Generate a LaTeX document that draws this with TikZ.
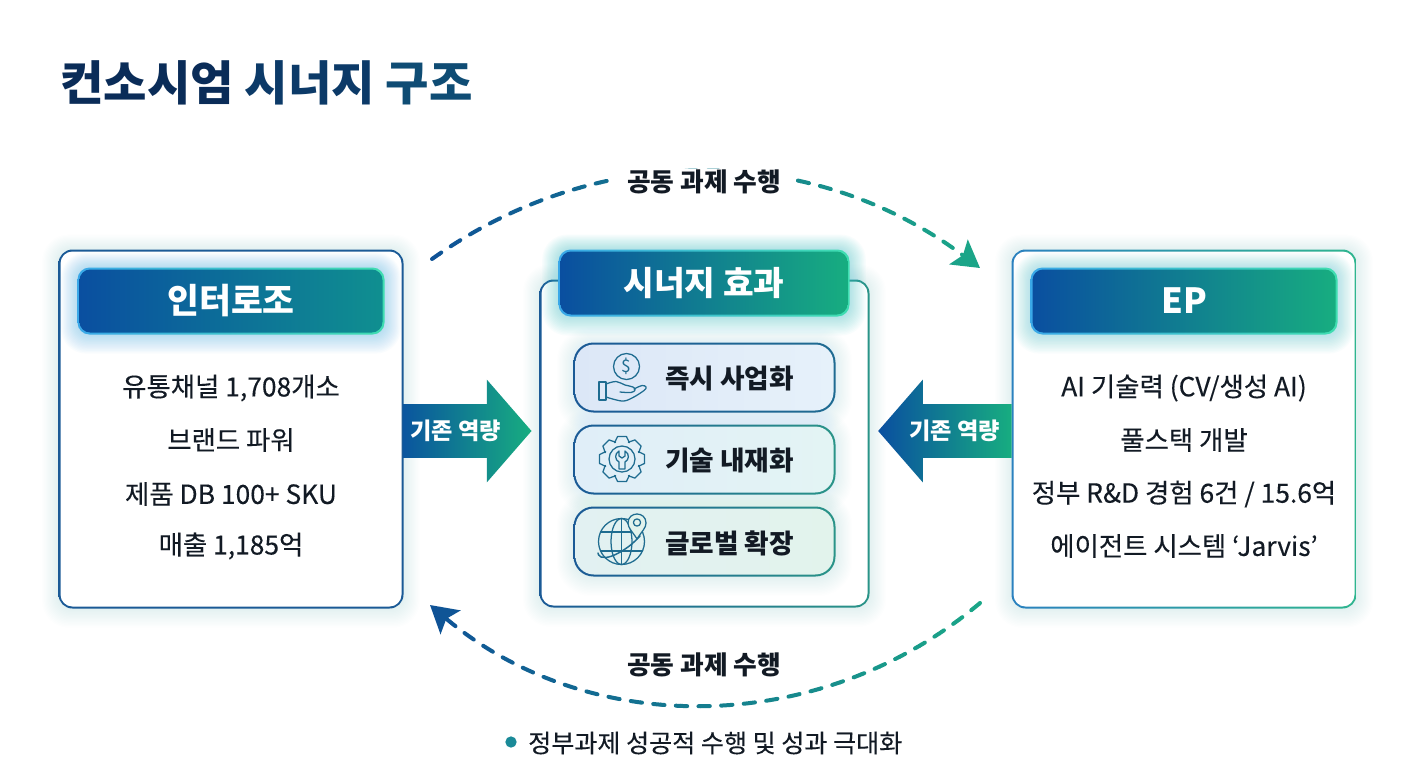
\documentclass[tikz,border=0pt]{standalone}
\usepackage{fontspec}
\setmainfont{Noto Sans CJK KR}
\newfontfamily\medfont[FakeBold=0.25]{Noto Sans CJK KR}
\usetikzlibrary{arrows.meta,shapes.arrows,calc}
\definecolor{navya}{HTML}{0A2C58}
\definecolor{navyb}{HTML}{0C3A68}
\definecolor{navyc}{HTML}{0F4C74}
\definecolor{gblue}{HTML}{0A4FA0}
\definecolor{gteal}{HTML}{0F8F90}
\definecolor{ggreen}{HTML}{17AD80}
\definecolor{edgeblue}{HTML}{3AA8E8}
\definecolor{edgeteal}{HTML}{3FDDB0}
\definecolor{lineblue}{HTML}{1B5A96}
\definecolor{linegreen}{HTML}{2FB58F}
\definecolor{lineteal}{HTML}{2A9488}
\definecolor{icon}{HTML}{1F6C90}
\definecolor{ink}{HTML}{121A24}
\definecolor{dashb}{HTML}{0F5296}
\definecolor{dashg}{HTML}{1BA888}
\definecolor{dot}{HTML}{1A8A98}
\definecolor{pinfill}{HTML}{E2F3EC}
\tikzset{
  x=0.75pt,y=-0.75pt,
  boxouter/.style={inner sep=0pt,outer sep=0pt,shading=axis,shading angle=90},
  panelbox/.style={boxouter,rounded corners=10.5pt},
  panelfill/.style={fill=white,inner sep=0pt,outer sep=0pt,rounded corners=9pt},
  headbox/.style={boxouter,rounded corners=9pt},
  pillbox/.style={boxouter,rounded corners=15pt},
  headtext/.style={text=white,font=\bfseries\fontsize{26}{26}\selectfont,inner sep=0pt},
  bodytext/.style={text=ink,font=\medfont\fontsize{19.8}{20}\selectfont,inner sep=0pt},
  pilltext/.style={text=ink,font=\bfseries\fontsize{20}{20}\selectfont,inner sep=0pt,anchor=west},
  linktext/.style={text=ink,font=\bfseries\fontsize{19.3}{20}\selectfont,fill=white,inner xsep=11.5pt,inner ysep=1pt},
  loopdash/.style={line width=3pt,line cap=round,dash pattern=on 8.5pt off 8.5pt,
    -{Stealth[length=20pt,width=23pt,inset=4pt]}},
  iconline/.style={draw=icon,line width=0.95pt,line cap=round,line join=round},
  blockarrow/.style={single arrow,shading=axis,shading angle=90,inner sep=0pt,outer sep=0pt,
    text height=25.9pt,text depth=13.85pt,yshift=-1.5pt,
    minimum height=96pt,minimum width=76.5pt,single arrow head extend=18.4pt,
    single arrow tip angle=98,text=white,font=\bfseries\fontsize{17.4}{18}\selectfont},
}
\newcommand{\glowrect}[7]{% x1 y1 x2 y2 radius colour opacity
  \foreach \g in {1,...,14}{
    \fill[#6,opacity=#7,rounded corners={#5+\g*0.7pt}] ({#1-\g*1.2},{#2-\g*1.1}) rectangle ({#3+\g*1.2},{#4+\g*1.4});
  }}
\begin{document}
\begin{tikzpicture}
\useasboundingbox (0,0) rectangle (1408,768);
\fill[white] (0,0) rectangle (1408,768);
% title
\node (title) [anchor=west,inner sep=0pt,font=\bfseries\fontsize{35.4}{38}\selectfont] at (60,82.5)
  {\textcolor{navya}{컨소시엄} \textcolor{navyb}{시너지} \textcolor{navyc}{구조}};
% glows
\glowrect{59}{250}{403}{608}{10pt}{edgeblue}{0.009}
\glowrect{1012}{250}{1356}{608}{10pt}{edgeteal!60!edgeblue}{0.009}
\glowrect{540}{280}{869}{607}{10pt}{edgeblue!50!edgeteal}{0.009}
% panels
\node (left) [panelbox,minimum width=258.75pt,minimum height=269.25pt,left color=lineblue,right color=lineblue] at (231,429) {};
\node (leftin) [panelfill,minimum width=255.75pt,minimum height=266.25pt] at (left.center) {};
\node (right) [panelbox,minimum width=258.75pt,minimum height=269.25pt,left color=edgeblue!50!lineblue,right color=linegreen] at (1184,429) {};
\node (rightin) [panelfill,minimum width=255.75pt,minimum height=266.25pt] at (right.center) {};
\node (mid) [panelbox,minimum width=247.5pt,minimum height=246pt,left color=lineblue,right color=lineteal] at (704.5,443.5) {};
\node (midin) [panelfill,minimum width=244.5pt,minimum height=243pt] at (mid.center) {};
% header glows
\glowrect{78}{268}{384}{334}{9pt}{edgeblue}{0.028}
\glowrect{559}{250}{849}{316}{9pt}{edgeblue!50!edgeteal}{0.03}
\glowrect{1031}{268}{1337}{334}{9pt}{edgeblue!50!edgeteal}{0.028}
% headers
\node (lefthead) [headbox,minimum width=230.25pt,minimum height=50.25pt,left color=edgeblue,right color=edgeteal] at (231,301) {};
\node [headbox,rounded corners=8pt,minimum width=227.25pt,minimum height=47.25pt,left color=gblue,right color=gteal,headtext] at (lefthead.center) {인터로조};
\node (midhead) [headbox,minimum width=218.25pt,minimum height=50.25pt,left color=edgeblue,right color=edgeteal] at (704,283) {};
\node [headbox,rounded corners=8pt,minimum width=215.25pt,minimum height=47.25pt,left color=gblue,right color=ggreen,headtext,font=\bfseries\fontsize{25}{25}\selectfont] at (midhead.center) {시너지 효과};
\node (righthead) [headbox,minimum width=230.25pt,minimum height=50.25pt,left color=edgeblue,right color=edgeteal] at (1184,301) {};
\node [headbox,rounded corners=8pt,minimum width=227.25pt,minimum height=47.25pt,left color=gblue,right color=ggreen,headtext] at (righthead.center) {EP};
% body text
\node (l1) [bodytext] at (231,388) {유통채널 1,708개소};
\node (l2) [bodytext] at (231,440) {브랜드 파워};
\node (l3) [bodytext] at (231,494) {제품 DB 100+ SKU};
\node (l4) [bodytext] at (231,546) {매출 1,185억};
\node (r1) [bodytext] at (1184,388) {AI 기술력 (CV/생성 AI)};
\node (r2) [bodytext] at (1184,440) {풀스택 개발};
\node (r3) [bodytext] at (1184,494) {정부 R\&D 경험 6건 / 15.6억};
\node (r4) [bodytext] at (1184,546) {에이전트 시스템 ‘Jarvis’};
% pills
\glowrect{574}{343}{835}{412}{15pt}{edgeblue!40!white}{0.02}
\glowrect{574}{425}{835}{494}{15pt}{edgeblue!40!white}{0.02}
\glowrect{574}{507}{835}{576}{15pt}{edgeteal!40!white}{0.02}
\foreach \nm/\yy/\ca/\cb/\cc/\cd in {pa/377.5/lineblue/lineblue!70!lineteal/DCE7F7/E6F1FA,pb/459.5/lineblue/lineteal/E0EEF8/E3F4F4,pc/541.5/lineblue/lineteal/E2F1F2/E2F3EC}{
  \definecolor{fa}{HTML}{\cc}\definecolor{fb}{HTML}{\cd}
  \node (\nm) [pillbox,minimum width=196.5pt,minimum height=52.5pt,left color=\ca,right color=\cb] at (704.5,\yy) {};
  \node [pillbox,rounded corners=13.8pt,minimum width=193.5pt,minimum height=49.5pt,left color=fa,right color=fb] at (\nm.center) {};
}
\node (pat) [pilltext] at (665,379) {즉시 사업화};
\node (pbt) [pilltext] at (665,461) {기술 내재화};
\node (pct) [pilltext] at (665,543) {글로벌 확장};
% icon: coin and hand
\begin{scope}[iconline]
\draw (626.5,366.5) circle (13);
\node (coin) [text=icon,inner sep=0pt,font=\fontsize{13}{13}\selectfont] at (626.5,366.5) {\$};
\draw (599,382) rectangle (606,400);
\draw plot[smooth,tension=0.6] coordinates {(606,384) (616,381.5) (625,385) (633,387) (635,390) (631,392.5) (620,392)};
\draw plot[smooth,tension=0.6] coordinates {(634,389) (642,385.5) (646,387) (644,390.5) (632,398) (622,401) (606,397)};
\end{scope}
% icon: gear and wrench
\begin{scope}[iconline,shift={(622,459)}]
\foreach \a in {0,45,...,315}{
  \draw (\a-24:18) -- (\a-11:23) -- (\a+11:23) -- (\a+24:18) -- (\a+21:18);
}
\draw (0,0) circle (13);
\draw (-3,-8) .. controls (-8,-5) and (-7,1) .. (-3,3) -- (-3,10) -- (3,10) -- (3,3) .. controls (7,1) and (8,-5) .. (3,-8) -- (3,-3) -- (0,-1) -- (-3,-3) -- cycle;
\end{scope}
% icon: globe with pin
\begin{scope}[iconline]
\draw (621.5,541.5) circle (23);
\draw (621.5,541.5) ellipse (10.5 and 23);
\draw (621.5,518.5) -- (621.5,564.5);
\draw (600.5,532) -- (642.5,532);
\draw (600.5,551) -- (642.5,551);
\draw[line width=1.1pt] plot[smooth,tension=0.7] coordinates {(598,553) (601,557) (612,556) (628,547) (640,536)};
\filldraw[fill=pinfill] (637,539) .. controls (632,531) and (628,528) .. (628,523) .. controls (628,511) and (646,511) .. (646,523) .. controls (646,528) and (642,531) .. (637,539) -- cycle;
\draw (637,522.5) circle (3.6);
\end{scope}
% block arrows
\node (arrowl) [blockarrow,left color=gblue!90!gteal,right color=ggreen,anchor=tail] at (left.east) {기존 역량};
\node (arrowr) [blockarrow,minimum height=100pt,shape border rotate=180,left color=gblue,right color=ggreen,anchor=tail] at (right.west) {기존 역량\kern2.6pt};
% dashed loops
\coordinate (topa) at (432,259);
\coordinate (topb) at (980,268);
\coordinate (bota) at (980,603);
\coordinate (botb) at (430,605);
\foreach \i in {0,...,28}{
  \pgfmathsetmacro\p{\i/28*100}
  \begin{scope}
    \clip ({420+20*\i},130) rectangle ({420+20*\i+20.6},300);
    \draw[loopdash,draw=dashg!\p!dashb] (topa) .. controls (600,139) and (814,144) .. (topb);
  \end{scope}
  \begin{scope}
    \clip ({420+20*\i},590) rectangle ({420+20*\i+20.6},720);
    \draw[loopdash,draw=dashg!\p!dashb] (bota) .. controls (821,737) and (589,739) .. (botb);
  \end{scope}
}
\node (toplabel) [linktext] at (704,182) {공동 과제 수행};
\node (botlabel) [linktext,fill=none] at (704,665) {공동 과제 수행};
% footer
\node (dotmark) [circle,fill=dot,minimum size=8.5pt,inner sep=0pt] at (511,742) {};
\node (foot) [anchor=west,text=ink,inner sep=0pt,font=\medfont\fontsize{18.8}{19}\selectfont] at (528,743) {정부과제 성공적 수행 및 성과 극대화};
\end{tikzpicture}
\end{document}
